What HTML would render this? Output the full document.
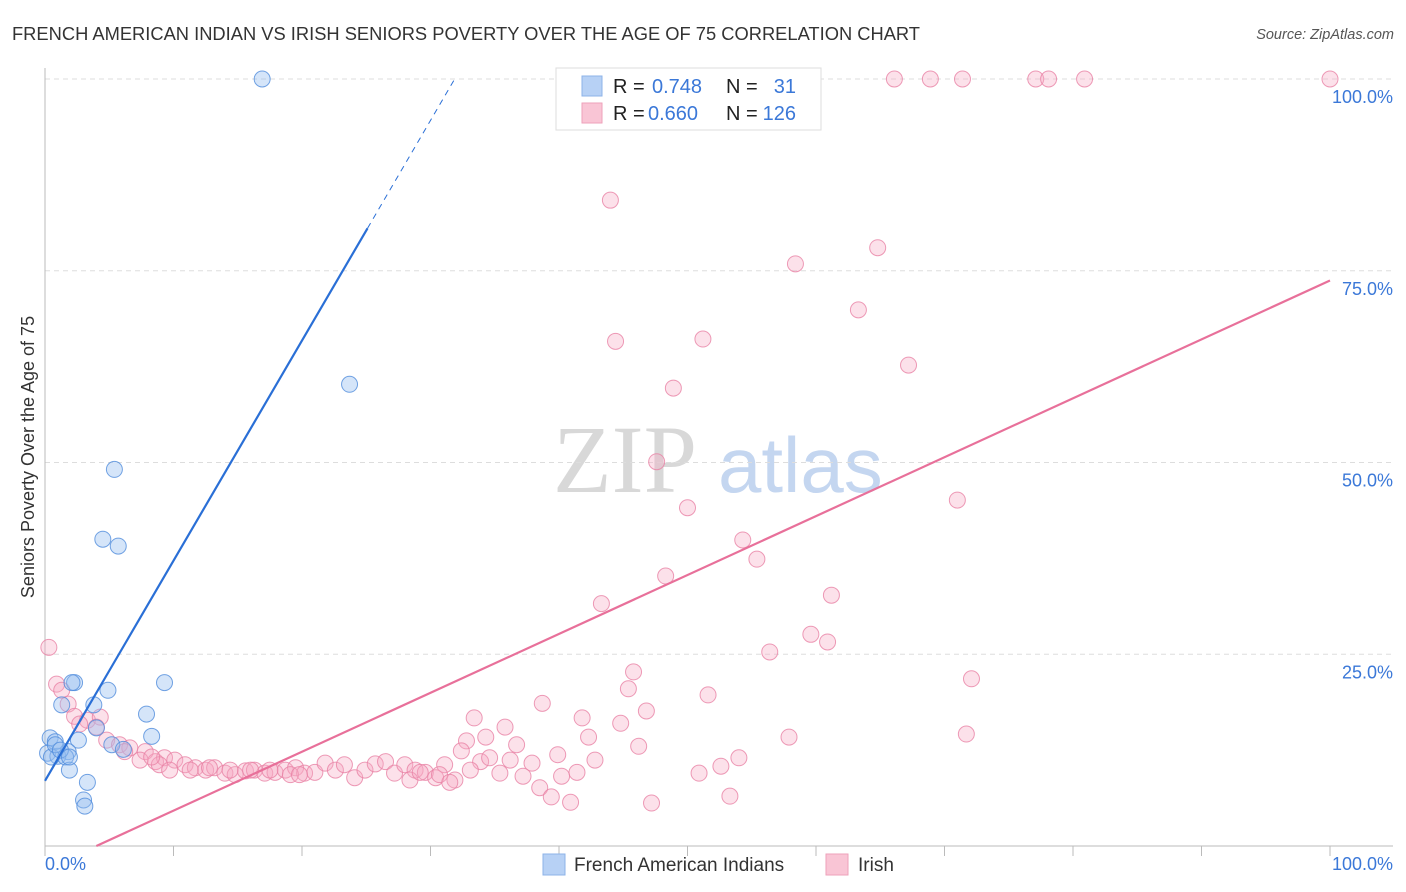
<!DOCTYPE html>
<html><head><meta charset="utf-8"><style>
body{margin:0;background:#fff;font-family:"Liberation Sans",sans-serif;}
svg{display:block}
</style></head><body>
<svg id="chart" width="1406" height="892">
<text x="12" y="40" font-size="18" fill="#333" textLength="908" lengthAdjust="spacingAndGlyphs">FRENCH AMERICAN INDIAN VS IRISH SENIORS POVERTY OVER THE AGE OF 75 CORRELATION CHART</text>
<text x="1394" y="39" font-size="14.5" fill="#555" font-style="italic" text-anchor="end">Source: ZipAtlas.com</text>
<g>
<text x="553" y="492" font-size="96" fill="#d8d8d8" font-family="Liberation Serif,serif">ZIP</text>
<text x="718" y="492" font-size="78" fill="#c4d6f0">atlas</text>
</g>
<g id="grid"></g>
<g id="axes"></g>
<g id="marks"></g>
<g>
<rect x="556" y="68" width="265" height="62" fill="#fff" stroke="#ddd"/>
<rect x="582" y="76" width="20" height="20" fill="#b7d1f5" stroke="#8db3e8"/>
<rect x="582" y="103" width="20" height="20" fill="#f9c5d5" stroke="#eea1ba"/>
<text x="613" y="93" font-size="20" fill="#222">R =</text>
<text x="652" y="93" font-size="20" fill="#3b78d8">0.748</text>
<text x="726" y="93" font-size="20" fill="#222">N =</text>
<text x="796" y="93" font-size="20" fill="#3b78d8" text-anchor="end">31</text>
<text x="613" y="120" font-size="20" fill="#222">R =</text>
<text x="648" y="120" font-size="20" fill="#3b78d8">0.660</text>
<text x="726" y="120" font-size="20" fill="#222">N =</text>
<text x="796" y="120" font-size="20" fill="#3b78d8" text-anchor="end">126</text>
</g>
<g>
<rect x="543" y="854" width="22" height="21" fill="#b7d1f5" stroke="#8db3e8"/>
<text x="574" y="871" font-size="19" fill="#333">French American Indians</text>
<rect x="826" y="854" width="22" height="21" fill="#f9c5d5" stroke="#eea1ba"/>
<text x="858" y="871" font-size="19" fill="#333">Irish</text>
</g>
<text transform="translate(34,457) rotate(-90)" font-size="18" fill="#333" text-anchor="middle">Seniors Poverty Over the Age of 75</text>
</svg>
<script>
const blueX=[16.9,23.7,5.4,4.5,5.7,9.3,2.3,2.1,4.9,1.3,3.8,7.9,8.3,2.6,0.4,0.8,1.8,0.2,1.0,1.6,0.5,5.2,6.1,1.9,3.3,3.0,3.1,4.0,0.8,1.2,1.9];
const blueY=[100,60.2,49.1,40.0,39.1,21.3,21.3,21.3,20.3,18.4,18.4,17.2,14.3,13.8,14.1,13.6,12.3,12.1,11.7,11.6,11.6,13.2,12.6,9.9,8.3,6.0,5.2,15.4,13.2,12.5,11.6];
const pinkX=[66.1,68.9,71.4,77.1,78.1,80.9,100,44.0,64.8,58.4,63.3,44.4,51.2,67.2,48.9,47.6,71.0,50.0,54.3,55.4,48.3,61.2,43.3,59.6,60.9,0.3,56.4,45.8,72.1,45.4,51.6,0.9,1.3,1.8,38.7,46.8,33.4,41.8,44.8,35.8,2.3,3.3,4.3,2.7,4.0,34.3,71.7,57.9,42.3,36.7,46.2,32.8,32.4,4.8,5.8,6.6,7.8,8.6,9.3,10.1,10.9,11.7,12.5,13.2,14.0,14.8,15.6,16.3,17.1,17.9,18.7,19.5,20.2,21.0,21.8,22.6,23.3,24.1,24.9,25.7,26.5,27.2,28.0,28.8,29.6,30.4,31.1,31.9,33.9,34.6,35.4,36.2,37.2,37.9,38.5,39.4,39.9,40.2,40.9,41.4,42.8,47.2,50.9,52.6,53.3,54.0,28.4,29.2,30.7,31.5,33.1,6.2,7.4,8.9,9.7,11.3,12.8,14.4,16.0,17.5,19.1,19.8,8.3];
const pinkY=[100,100,100,100,100,100,100,84.2,78.0,75.9,69.9,65.8,66.1,62.7,59.7,50.1,45.1,44.1,39.9,37.4,35.2,32.7,31.6,27.6,26.6,25.9,25.3,22.7,21.8,20.5,19.7,21.1,20.3,18.5,18.6,17.6,16.7,16.7,16.0,15.5,16.9,16.4,16.8,15.9,15.5,14.2,14.6,14.2,14.2,13.2,13.0,13.7,12.4,13.8,13.2,12.8,12.3,11.0,11.5,11.2,10.6,10.2,9.9,10.2,9.5,9.3,9.8,9.9,9.5,9.6,9.9,10.2,9.5,9.6,10.8,9.9,10.6,8.9,9.9,10.7,11.0,9.5,10.6,9.9,9.6,8.9,10.6,8.6,11.0,11.5,9.5,11.2,9.1,10.8,7.6,6.4,11.9,9.1,5.7,9.6,11.2,5.6,9.5,10.4,6.5,11.5,8.6,9.6,9.3,8.3,9.9,12.3,11.2,10.6,9.9,9.9,10.2,9.9,9.9,9.9,9.3,9.3,11.6];
const yTicks=[25,50,75,100];
const yTickLabels=["25.0%","50.0%","75.0%","100.0%"];
const xTickVals=[0,10,20,30,40,50,60,70,80,90,100];
const blueFit={a:8.5,b:2.87};
const pinkFit={a:-3.07,b:0.768};
const X=v=>45+v*12.85, Y=v=>846-v*7.67;
const NS="http://www.w3.org/2000/svg";
function mk(tag,attrs,parent){const e=document.createElementNS(NS,tag);for(const k in attrs)e.setAttribute(k,attrs[k]);parent.appendChild(e);return e;}
const grid=document.getElementById('grid'),axes=document.getElementById('axes'),marks=document.getElementById('marks');
yTicks.forEach((t,i)=>{
 const l=mk('line',{x1:45,x2:1393,y1:Y(t),y2:Y(t),stroke:'#ddd','stroke-dasharray':'5,4'},grid);
 
 
 const tx=mk('text',{x:1393,y:Y(t)+24,'font-size':18,fill:'#3b78d8','text-anchor':'end'},axes);
 tx.textContent=yTickLabels[i];
 
 
});
let a=mk('line',{x1:45,x2:45,y1:68,y2:846,stroke:'#bbb'},axes);


a=mk('line',{x1:45,x2:1393,y1:846,y2:846,stroke:'#bbb'},axes);


xTickVals.forEach(v=>{const t=mk('line',{x1:X(v),x2:X(v),y1:846,y2:856,stroke:'#bbb'},axes);
 
 });
let t=mk('text',{x:45,y:870,'font-size':18,fill:'#3b78d8'},axes);t.textContent='0.0%';


t=mk('text',{x:1393,y:870,'font-size':18,fill:'#3b78d8','text-anchor':'end'},axes);t.textContent='100.0%';


pinkX.forEach((x,i)=>{const c=mk('circle',{cx:X(x),cy:Y(pinkY[i]),r:8,fill:'rgba(245,170,195,0.35)',stroke:'rgba(232,130,165,0.8)','stroke-width':1},marks);
 
 });
blueX.forEach((x,i)=>{const c=mk('circle',{cx:X(x),cy:Y(blueY[i]),r:8,fill:'rgba(150,190,240,0.4)',stroke:'rgba(80,140,220,0.8)','stroke-width':1},marks);
 
 });
const bx1=25.1, bxEnd=(100-blueFit.a)/blueFit.b;
let L=mk('line',{x1:X(0),y1:Y(blueFit.a),x2:X(bx1),y2:Y(blueFit.a+blueFit.b*bx1),stroke:'#2a6fd6','stroke-width':2.2},marks);


L=mk('line',{x1:X(bx1),y1:Y(blueFit.a+blueFit.b*bx1),x2:X(bxEnd),y2:Y(100),stroke:'#2a6fd6','stroke-width':1,'stroke-dasharray':'6,5'},marks);


const px0=-pinkFit.a/pinkFit.b;
L=mk('line',{x1:X(px0),y1:Y(0),x2:X(100),y2:Y(pinkFit.a+pinkFit.b*100),stroke:'#e8709a','stroke-width':2.2},marks);


</script>
</body></html>
